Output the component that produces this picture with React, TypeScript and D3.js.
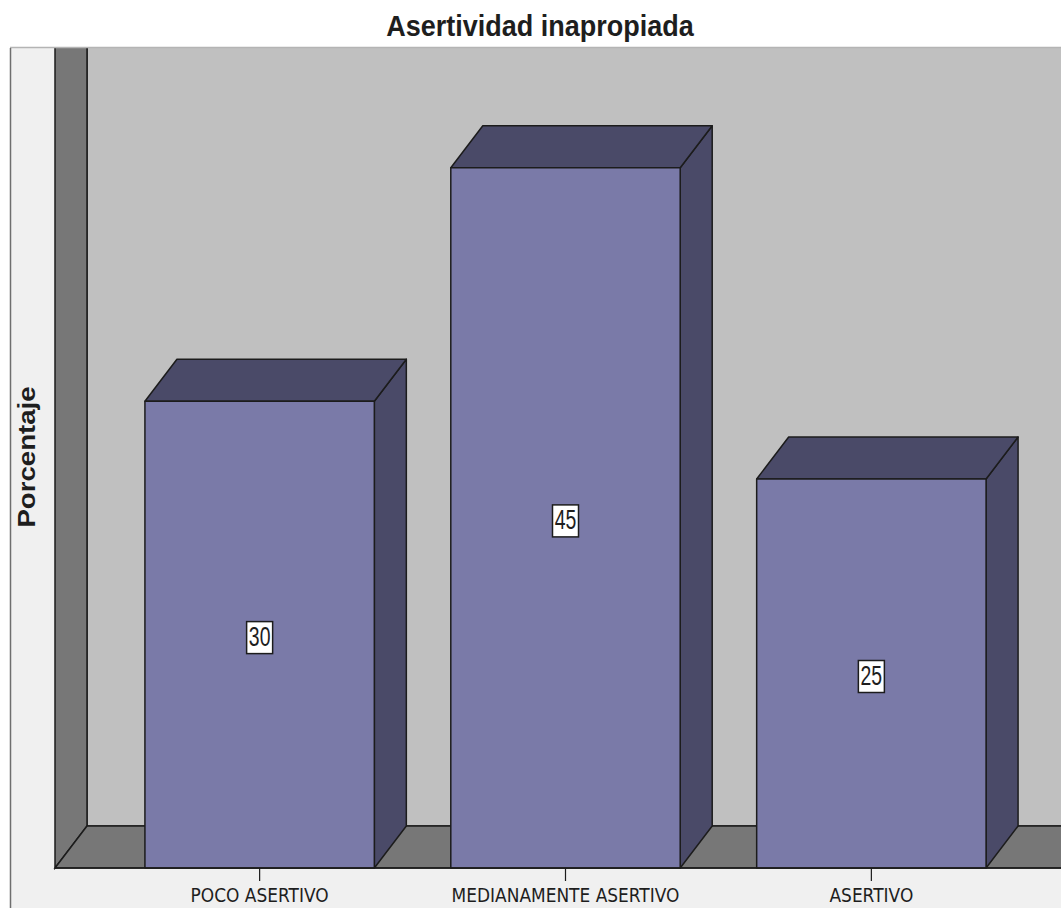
import React from "react";
import * as d3 from "d3";

// Chart content
const chartTitle = "Asertividad inapropiada";
const yAxisTitle = "Porcentaje";
const categories = ["POCO ASERTIVO", "MEDIANAMENTE ASERTIVO", "ASERTIVO"];
const percentages = [30, 45, 25];
const yDomain = [0, 50];

const W = 1061;
const H = 908;

// Plot geometry (front plane) and 3D depth offset
const frameLeft = 10;
const frameTop = 48;
const frontLeft = 55;
const frontRight = 1076;
const baseY = 868;
const topY = 90;
const depthX = 32;
const depthY = -42;

const colors = {
  backWall: "#c0c0c0",
  sideWall: "#777777",
  panel: "#f0f0f0",
  barFront: "#7a7aa8",
  barShade: "#4a4a68",
  outline: "#1c1c1c",
  text: "#1e1e1e",
};

export default function App() {
  const x = d3
    .scaleBand<string>()
    .domain(categories)
    .range([frontLeft, frontRight])
    .paddingInner(0.25)
    .paddingOuter(0.294);
  const y = d3.scaleLinear().domain(yDomain).range([baseY, topY]);
  const bw = x.bandwidth();

  const pts = (p: [number, number][]) => p.map((d) => d.join(",")).join(" ");

  return (
    <svg
      width={W}
      height={H}
      style={{ position: "absolute", left: 0, top: 0, background: "#fff" }}
    >
      <defs>
        <clipPath id="plotClip">
          <rect x={frameLeft} y={frameTop} width={W - frameLeft} height={H - frameTop} />
        </clipPath>
      </defs>

      {/* title */}
      <text
        transform={`translate(540,36) scale(1,1.06)`}
        textAnchor="middle"
        fontFamily="'Liberation Sans', Arial, sans-serif"
        fontWeight="bold"
        fontSize={27}
        fill={colors.text}
      >
        {chartTitle}
      </text>

      <g clipPath="url(#plotClip)">
        {/* outer panel */}
        <rect x={frameLeft} y={frameTop} width={W - frameLeft} height={H - frameTop} fill={colors.panel} />

        {/* back wall */}
        <rect
          x={frontLeft + depthX}
          y={frameTop - 10}
          width={W - frontLeft}
          height={baseY + depthY - frameTop + 10}
          fill={colors.backWall}
          stroke={colors.outline}
          strokeWidth={1.5}
        />

        {/* left wall */}
        <polygon
          points={pts([
            [frontLeft, baseY],
            [frontLeft, 0],
            [frontLeft + depthX, 0],
            [frontLeft + depthX, baseY + depthY],
          ])}
          fill={colors.sideWall}
          stroke={colors.outline}
          strokeWidth={1.5}
        />

        {/* floor */}
        <polygon
          points={pts([
            [frontLeft, baseY],
            [frontLeft + depthX, baseY + depthY],
            [frontRight + depthX + 40, baseY + depthY],
            [frontRight + 40, baseY],
          ])}
          fill={colors.sideWall}
          stroke={colors.outline}
          strokeWidth={1.5}
        />

        {/* bars */}
        {categories.map((c, i) => {
          const v = percentages[i];
          const bx = x(c) as number;
          const yt = y(v);
          return (
            <g key={c} stroke={colors.outline} strokeWidth={1.5} strokeLinejoin="round">
              <polygon
                points={pts([
                  [bx + bw, yt],
                  [bx + bw + depthX, yt + depthY],
                  [bx + bw + depthX, baseY + depthY],
                  [bx + bw, baseY],
                ])}
                fill={colors.barShade}
              />
              <polygon
                points={pts([
                  [bx, yt],
                  [bx + depthX, yt + depthY],
                  [bx + bw + depthX, yt + depthY],
                  [bx + bw, yt],
                ])}
                fill={colors.barShade}
              />
              <rect x={bx} y={yt} width={bw} height={baseY - yt} fill={colors.barFront} />
            </g>
          );
        })}

        {/* front edge of floor */}
        <line x1={frontLeft} x2={W} y1={baseY} y2={baseY} stroke={colors.outline} strokeWidth={1.5} />

        {/* value labels */}
        {categories.map((c, i) => {
          const v = percentages[i];
          const cx = (x(c) as number) + bw / 2;
          const cy = (y(v) + baseY) / 2 + 3;
          return (
            <g key={c + "-lbl"}>
              <rect
                x={cx - 13}
                y={cy - 16}
                width={26}
                height={32}
                fill="#ffffff"
                stroke={colors.outline}
                strokeWidth={1.5}
              />
              <text
                transform={`translate(${cx},${cy + 8}) scale(0.72,1)`}
                textAnchor="middle"
                fontFamily="'Liberation Sans', Arial, sans-serif"
                fontSize={27}
                fill={colors.text}
              >
                {v}
              </text>
            </g>
          );
        })}

        {/* category ticks and labels */}
        {categories.map((c) => {
          const cx = (x(c) as number) + bw / 2;
          return (
            <g key={c + "-tick"}>
              <line x1={cx} x2={cx} y1={baseY} y2={baseY + 13} stroke={colors.outline} strokeWidth={1.2} />
              <text
                transform={`translate(${cx},902) scale(1,1.13)`}
                textAnchor="middle"
                fontFamily="'DejaVu Sans', sans-serif"
                fontSize={17}
                fill={colors.text}
              >
                {c}
              </text>
            </g>
          );
        })}

        {/* y axis title */}
        <text
          transform={`translate(35,457) rotate(-90) scale(1.15,1)`}
          textAnchor="middle"
          fontFamily="'Liberation Sans', Arial, sans-serif"
          fontWeight="bold"
          fontSize={24}
          fill={colors.text}
        >
          {yAxisTitle}
        </text>
      </g>

      {/* frame edges */}
      <line x1={frameLeft} x2={W} y1={frameTop - 0.5} y2={frameTop - 0.5} stroke="#b4b4b4" strokeWidth={1.5} />
      <line x1={frameLeft + 0.5} x2={frameLeft + 0.5} y1={frameTop} y2={H} stroke="#6e6e6e" strokeWidth={1.5} />
    </svg>
  );
}
